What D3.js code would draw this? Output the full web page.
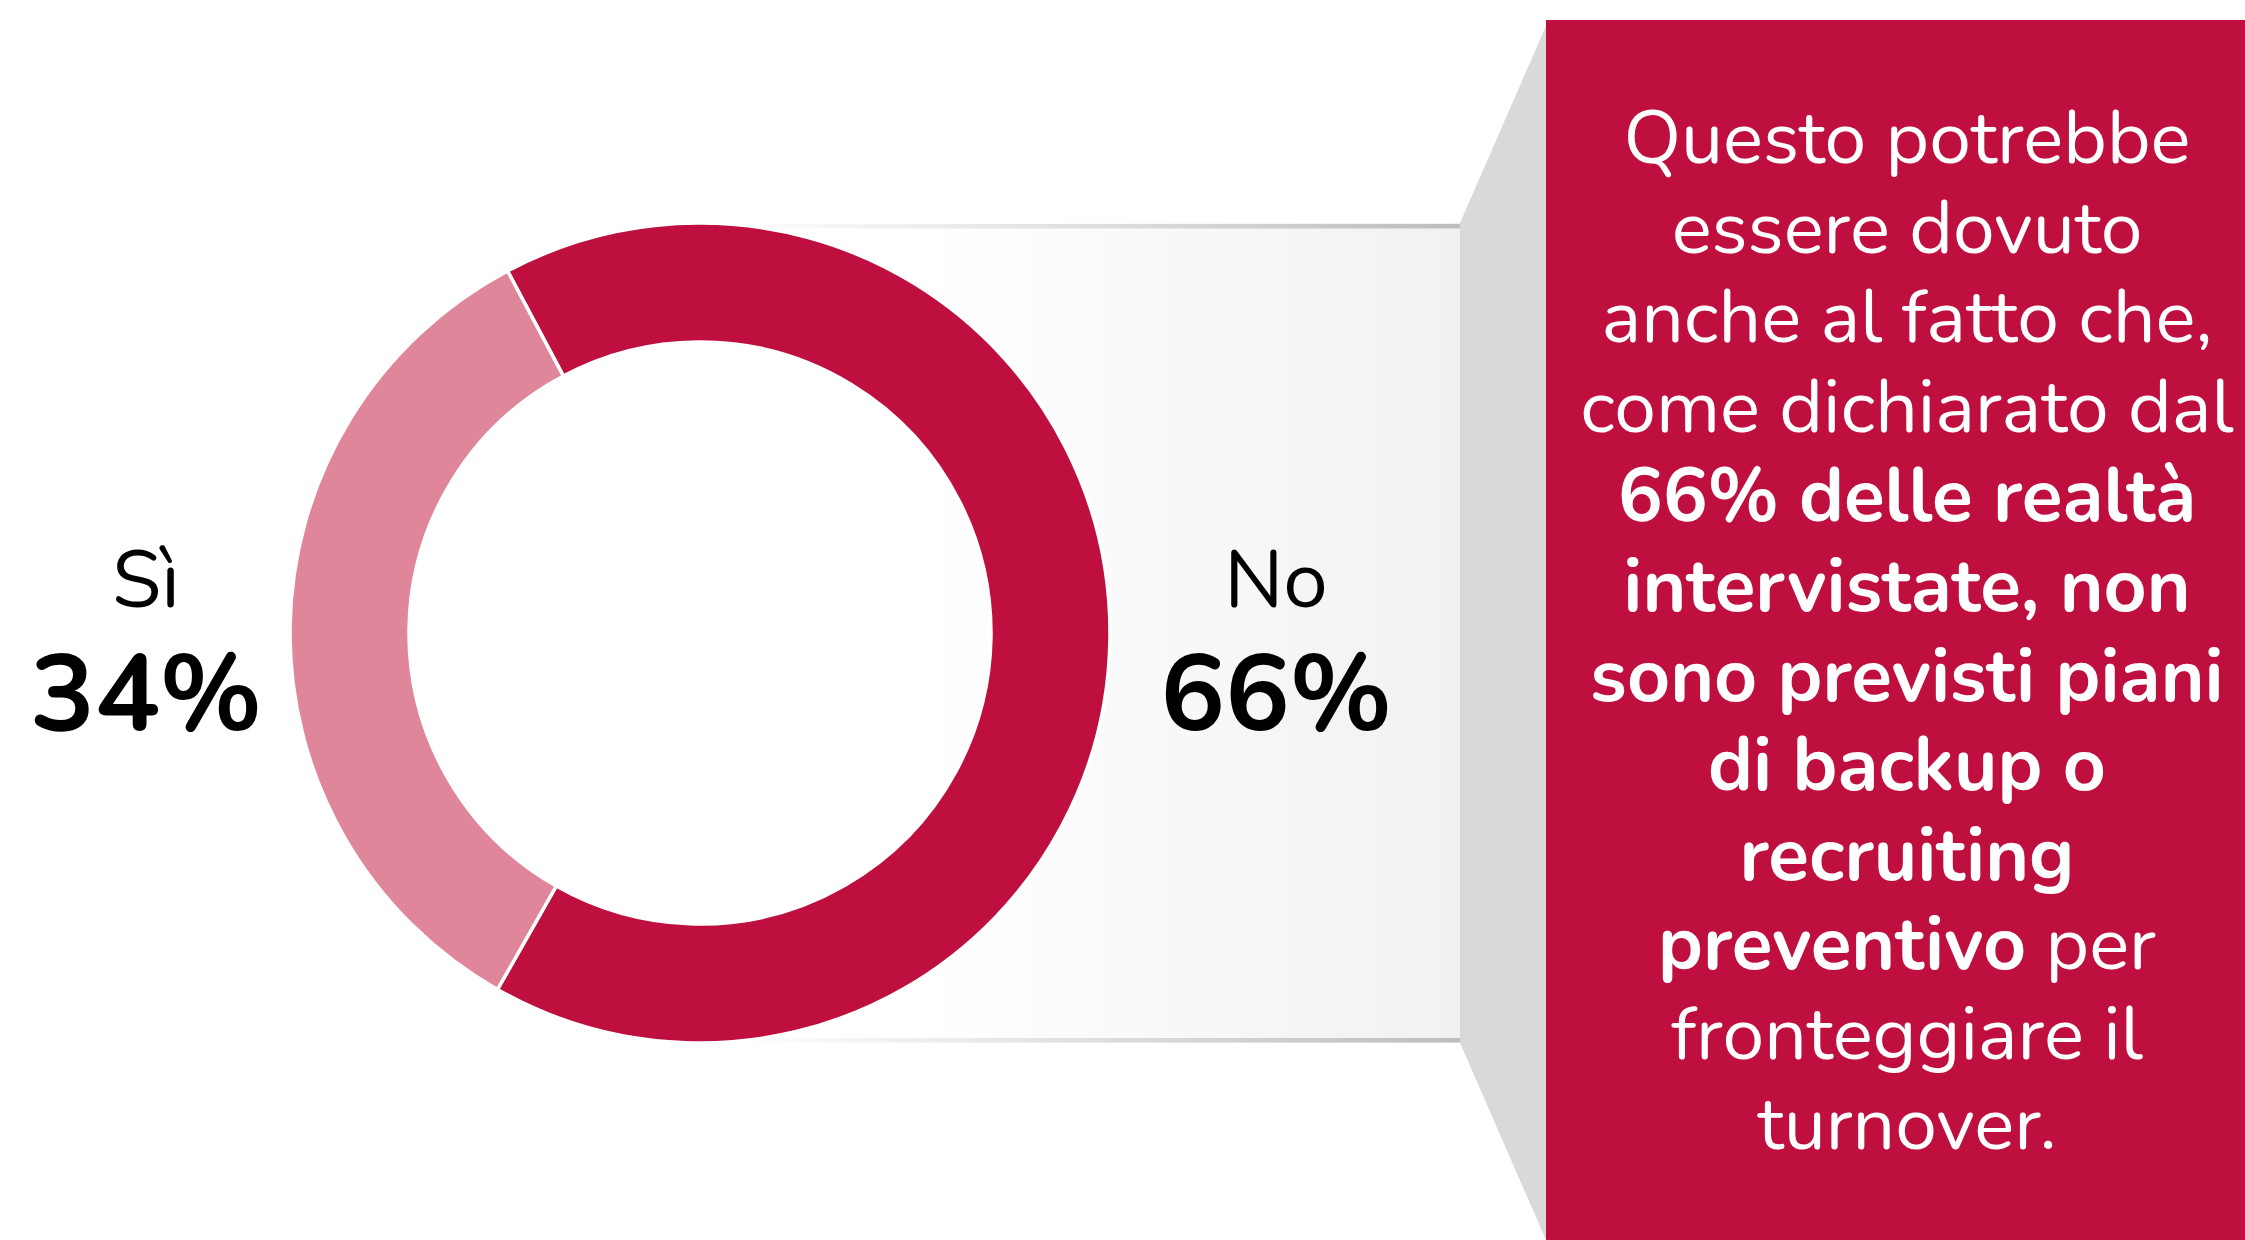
<!DOCTYPE html>
<html>
<head>
<meta charset="utf-8">
<script src="https://cdn.jsdelivr.net/npm/d3@7"></script>
<style>
  html, body { margin: 0; padding: 0; background: #fff; overflow: hidden; }
  svg { display: block; font-family: Nunito, Lato, sans-serif; }
</style>
</head>
<body>
<div id="chart"></div>
<script>
// data
var categories = ["No", "Sì"];
var values = [66, 34];
var colors = ["#bf0f3f", "#df869b"];

// callout text, one entry per line, each line is a list of [text, bold]
var noteLines = [
  [["Questo potrebbe", false]],
  [["essere dovuto", false]],
  [["anche al fatto che,", false]],
  [["come dichiarato dal", false]],
  [["66% delle realtà", true]],
  [["intervistate, non", true]],
  [["sono previsti piani", true]],
  [["di backup o", true]],
  [["recruiting", true]],
  [["preventivo", true], [" per", false]],
  [["fronteggiare il", false]],
  [["turnover.", false]]
];

var svgWidth = 2245;
var svgHeight = 1240;

var cx = 700, cy = 633;
var outerR = 410, innerR = 291;

var svg = d3.select("#chart")
  .append("svg")
  .attr("width", svgWidth)
  .attr("height", svgHeight);

var defs = svg.append("defs");

// band gradient (white -> light gray)
var bandGrad = defs.append("linearGradient").attr("id", "bandGrad");
bandGrad.append("stop").attr("offset", "0%").attr("stop-color", "#ffffff");
bandGrad.append("stop").attr("offset", "30%").attr("stop-color", "#ffffff");
bandGrad.append("stop").attr("offset", "100%").attr("stop-color", "#f1f1f1");

var lineGrad = defs.append("linearGradient").attr("id", "lineGrad");
lineGrad.append("stop").attr("offset", "0%").attr("stop-color", "#ffffff");
lineGrad.append("stop").attr("offset", "100%").attr("stop-color", "#bdbdbd");

var bandRight = 1460;
var boxLeft = 1546;

// band behind the donut
svg.append("rect")
  .attr("x", cx)
  .attr("y", cy - outerR)
  .attr("width", bandRight - cx)
  .attr("height", outerR * 2)
  .attr("fill", "url(#bandGrad)");

// top and bottom edges
[cy - outerR + 1, cy + outerR - 5].forEach(function(y) {
  svg.append("rect")
    .attr("x", cx + 30)
    .attr("y", y)
    .attr("width", bandRight - cx - 30)
    .attr("height", 4.5)
    .attr("fill", "url(#lineGrad)");
});

// side trapezoid
svg.append("polygon")
  .attr("points", [
    [bandRight, cy - outerR],
    [boxLeft, 26],
    [boxLeft, svgHeight],
    [bandRight, cy + outerR]
  ].map(function(p) { return p.join(","); }).join(" "))
  .attr("fill", "#d9d9d9");

// red box
svg.append("rect")
  .attr("x", boxLeft)
  .attr("y", 20)
  .attr("width", svgWidth - boxLeft)
  .attr("height", svgHeight - 20)
  .attr("fill", "#bf0f3f");

// donut
var siShare = values[1] / d3.sum(values);
var start = -Math.PI / 2 + Math.PI * siShare + 0.014;
var pie = d3.pie()
  .sort(null)
  .startAngle(start)
  .endAngle(start + 2 * Math.PI);

var arc = d3.arc()
  .innerRadius(innerR)
  .outerRadius(outerR);

var donut = svg.append("g")
  .attr("transform", `translate(${cx}, ${cy})`);

donut.selectAll("path")
  .data(pie(values))
  .enter()
  .append("path")
  .attr("d", arc)
  .attr("fill", (d, i) => colors[i])
  .attr("stroke", "#ffffff")
  .attr("stroke-width", 3.5);

// slice labels
var labelPos = [[1276, 607, 730], [146, 607, 730]];
categories.forEach(function(c, i) {
  svg.append("text")
    .attr("x", labelPos[i][0])
    .attr("y", labelPos[i][1])
    .attr("text-anchor", "middle")
    .attr("font-size", 80)
    .attr("fill", "#000")
    .text(c);
  svg.append("text")
    .attr("x", labelPos[i][0])
    .attr("y", labelPos[i][2])
    .attr("text-anchor", "middle")
    .attr("font-size", 108)
    .attr("font-weight", "bold")
    .attr("fill", "#000")
    .text(values[i] + "%");
});

// callout text
var note = svg.append("text")
  .attr("text-anchor", "middle")
  .attr("font-size", 75)
  .attr("fill", "#ffffff");

noteLines.forEach(function(line, i) {
  var t = note.append("tspan")
    .attr("x", 1907)
    .attr("y", 163 + i * 89.6);
  line.forEach(function(part, j) {
    var s = j === 0 ? t : note.append("tspan");
    s.text(part[0]).attr("font-weight", part[1] ? "bold" : "normal");
  });
});
</script>
</body>
</html>
